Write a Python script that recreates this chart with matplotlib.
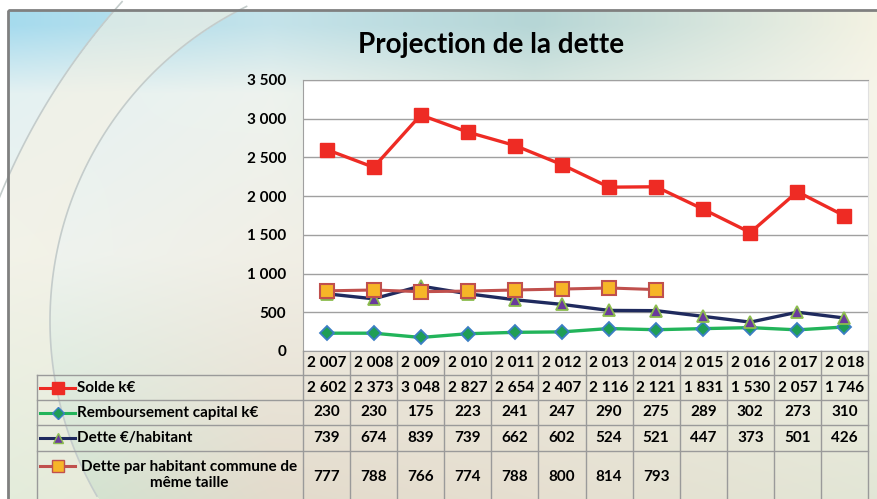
import numpy as np
import matplotlib
matplotlib.use('Agg')
import matplotlib.pyplot as plt
from matplotlib.patches import Rectangle
from matplotlib.colors import to_rgb
from matplotlib.ticker import FuncFormatter

plt.rcParams['font.family'] = ['Lato', 'DejaVu Sans']
plt.rcParams['font.weight'] = 'bold'

# données
annees = [2007, 2008, 2009, 2010, 2011, 2012, 2013, 2014, 2015, 2016, 2017, 2018]
solde = [2602, 2373, 3048, 2827, 2654, 2407, 2116, 2121, 1831, 1530, 2057, 1746]
remboursement = [230, 230, 175, 223, 241, 247, 290, 275, 289, 302, 273, 310]
dette_hab = [739, 674, 839, 739, 662, 602, 524, 521, 447, 373, 501, 426]
dette_commune = [777, 788, 766, 774, 788, 800, 814, 793]

noms = ['Solde k€', 'Remboursement capital k€', 'Dette €/habitant',
        'Dette par habitant commune de\nmême taille']


def fmt(v):
    return f'{v:,}'.replace(',', ' ')


fig = plt.figure(figsize=(8.77, 4.99), dpi=100)

# fond dégradé
bg = fig.add_axes([0, 0, 1, 1])
bg.set_xlim(0, 877)
bg.set_ylim(499, 0)
bg.axis('off')
grille = [['#a6dbee', '#c4e3ea', '#b6d6d6', '#f5f3e3'],
          ['#e4f1f2', '#eef3ee', '#d9e8e2', '#f7f5ea'],
          ['#eef4f0', '#f1efe6', '#eeece2', '#f4f2e6'],
          ['#cde6d2', '#e3dbcc', '#e6dfd0', '#e2e6d6']]
gx = [0, 0.3, 0.6, 1.0]
gy = [0.03, 0.17, 0.5, 1.0]
g = np.array([[to_rgb(c) for c in r] for r in grille])
W, H = 877, 489
xx = np.linspace(0, 1, W)
yy = np.linspace(0, 1, H)
tmp = np.stack([np.stack([np.interp(xx, gx, g[j, :, k]) for k in range(3)], -1) for j in range(4)])
img = np.stack([np.stack([np.interp(yy, gy, tmp[:, i, k]) for k in range(3)], -1) for i in range(W)], 1)
# zone crème entre les deux arcs
px, py = np.meshgrid(np.arange(W) + 8, np.arange(H) + 10)
dA = np.hypot(px - 620, py - 450)
dB = np.hypot(px - 400, py - 321)
zone = (dA < 670) & (dB > 350) & (px < 250)
img[zone] = img[zone] * 0.45 + np.array(to_rgb('#f6f1e2')) * 0.55
bg.imshow(img, extent=(8, 885, 499, 10), aspect='auto', zorder=0)
tA = np.radians(np.linspace(200, 222, 50))
bg.plot(620 + 670 * np.cos(tA), 450 + 670 * np.sin(tA), color='#c4cccb', lw=1.2, zorder=1)
tB = np.radians(np.linspace(150, 244, 100))
bg.plot(400 + 350 * np.cos(tB), 321 + 350 * np.sin(tB), color='#c4cccb', lw=1.2, zorder=1)
bg.add_patch(Rectangle((8, 10), 880, 500, fill=False, ec='#808080', lw=2, zorder=2))

bg.text(491, 45, 'Projection de la dette', ha='center', va='center', fontsize=20, fontweight='bold')

# graphique
ax = fig.add_axes([303 / 877, 148 / 499, 565 / 877, 271 / 499])
ax.set_facecolor('white')
x = np.arange(len(annees))
ax.plot(x, solde, color='#ee2b24', lw=2.4, marker='s', ms=10, mfc='#ee2b24', mec='#ee2b24', zorder=5)
ax.plot(x, remboursement, color='#22b45a', lw=2.4, marker='D', ms=7.5, mfc='#1f9e55', mec='#3b7fc4', mew=1.3, zorder=4)
ax.plot(x, dette_hab, color='#1f2a5e', lw=2.4, marker='^', ms=9, mfc='#6a3a9c', mec='#8cbd4e', mew=1.3, zorder=4)
ax.plot(x[:len(dette_commune)], dette_commune, color='#c0504d', lw=2.2, marker='s', ms=10, mfc='#f6b528',
        mec='#c0504d', mew=1.5, zorder=6)
ax.set_xlim(-0.5, 11.5)
ax.set_ylim(0, 3500)
ax.set_yticks(range(0, 3501, 500))
ax.yaxis.set_major_formatter(FuncFormatter(lambda v, p: fmt(int(v))))
ax.set_xticks([])
ax.tick_params(axis='y', length=0, pad=12, labelsize=11)
for t in ax.get_yticklabels():
    t.set_fontweight('bold')
ax.grid(axis='y', color='#a0a0a0', lw=1)
ax.set_axisbelow(True)
for s in ax.spines.values():
    s.set_color('#a0a0a0')
ax.spines['right'].set_color('#e0e0e0')

# tableau
u = 12 / 565
tb = fig.add_axes([37 / 877, 0, 831 / 877, 148 / 499])
tb.set_xlim(-0.5 - 266 * u, 11.5)
tb.set_ylim(148, 0)
tb.axis('off')
bords = [0, 24, 49, 74, 100, 152]
lc = '#9a9a9a'
x0 = -0.5 - 266 * u
for b in bords[1:5]:
    tb.plot([x0, 11.5], [b, b], color=lc, lw=1, clip_on=False)
for k in range(13):
    tb.plot([k - 0.5, k - 0.5], [0, 152], color=lc, lw=1, clip_on=False)
tb.plot([x0, x0], [24, 152], color=lc, lw=1, clip_on=False)

centres = [36.5, 61.5, 87, 126]
for i, a in enumerate(annees):
    tb.text(i, 12, fmt(a), ha='center', va='center', fontsize=11, fontweight='bold')
series = [solde, remboursement, dette_hab, dette_commune]
for r, vals in enumerate(series):
    for i, v in enumerate(vals):
        tb.text(i, centres[r], fmt(v), ha='center', va='center', fontsize=11, fontweight='bold')

styles = [dict(color='#ee2b24', marker='s', ms=8, mfc='#ee2b24', mec='#ee2b24'),
          dict(color='#22b45a', marker='D', ms=6, mfc='#1f9e55', mec='#3b7fc4'),
          dict(color='#1f2a5e', marker='^', ms=7, mfc='#6a3a9c', mec='#8cbd4e'),
          dict(color='#c0504d', marker='s', ms=8, mfc='#f6b528', mec='#c0504d')]
ky = [36.5, 61.5, 87, 115]
for r, st in enumerate(styles):
    tb.plot([x0 + 3 * u, x0 + 38 * u], [ky[r], ky[r]], lw=2.2, color=st['color'])
    tb.plot([x0 + 20.5 * u], [ky[r]], lw=0, **{k: v for k, v in st.items() if k != 'color'})
for r in range(3):
    tb.text(x0 + 40 * u, centres[r], noms[r], ha='left', va='center', fontsize=11, fontweight='bold')
tb.text(x0 + 152 * u, 124, noms[3], ha='center', va='center', fontsize=11, fontweight='bold',
        multialignment='center', linespacing=1.25)

fig.savefig('out.png', dpi=100)
